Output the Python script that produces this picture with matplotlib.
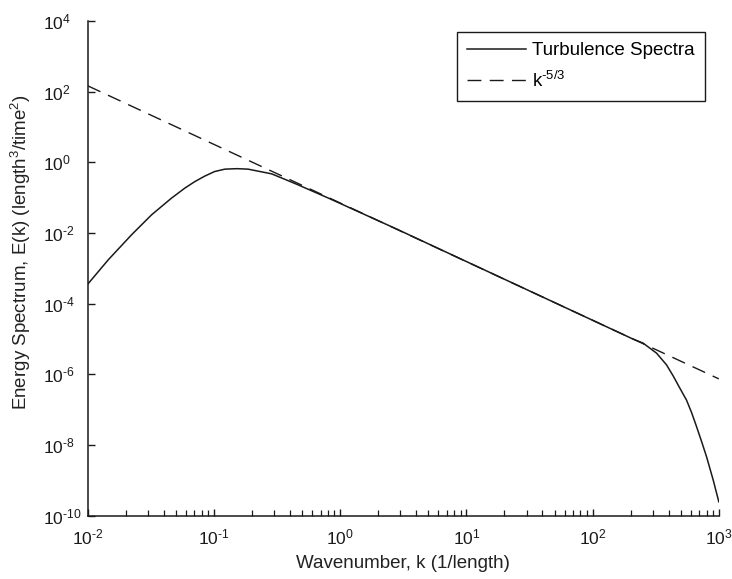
"""
Turbulence energy spectrum vs. the k^-5/3 inertial-range line (log-log).
Values read off the reference picture.
"""
import matplotlib
matplotlib.use("Agg")
import numpy as np
import matplotlib.pyplot as plt
from matplotlib.ticker import LogLocator, NullLocator, FuncFormatter

plt.rcParams["font.family"] = ["Liberation Sans", "DejaVu Sans"]
plt.rcParams["mathtext.fontset"] = "custom"
plt.rcParams["mathtext.rm"] = "Liberation Sans"
plt.rcParams["mathtext.default"] = "regular"
plt.rcParams["axes.unicode_minus"] = False

# Turbulence spectrum
k_turb = [0.0100, 0.0145, 0.0222, 0.0320, 0.0460, 0.0587, 0.0705, 0.0845,
          0.101, 0.122, 0.152, 0.186, 0.286, 0.364, 0.451, 0.828, 2.79,
          12.4, 209, 251, 321, 385, 435, 491, 555, 608, 665, 730, 798, 902,
          1000]
E_turb = [3.6e-4, 1.74e-3, 8.9e-3, 3.27e-2, 9.68e-2, 0.186, 0.285, 0.407,
          0.547, 0.640, 0.660, 0.640, 0.471, 0.330, 0.240, 0.093, 1.30e-2,
          1.09e-3, 1.0e-5, 7.7e-6, 4.0e-6, 1.87e-6, 9.06e-7, 4.1e-7,
          1.87e-7, 8.4e-8, 3.4e-8, 1.27e-8, 4.8e-9, 1.04e-9, 2.5e-10]

# Reference -5/3 line
k_ref = [0.01, 1.0, 1000]
E_ref = [145, 0.0705, 7.5e-7]

YTICKS = [1e-10, 1e-8, 1e-6, 1e-4, 1e-2, 1e0, 1e2, 1e4]
INK = "#1a1a1a"
FS = 13.5
TICK_FS = 12.5


def pow10(v, _pos=None):
    # short hyphen in the exponent, like the reference
    e = int(round(np.log10(v)))
    return "10$^{%s}$" % str(e).replace("-", "\u2010")


fig = plt.figure(figsize=(7.32, 5.79), dpi=100)
ax = fig.add_axes([0.120, 0.109, 0.862, 0.855])

ax.plot(k_turb, E_turb, color=INK, lw=1.1, label="Turbulence Spectra")
ax.plot(k_ref, E_ref, color=INK, lw=1.0, linestyle=(0, (10, 6)),
        label="k$^{\u20105/3}$")

ax.set_xscale("log")
ax.set_yscale("log")
ax.set_xlim(1e-2, 1e3)
ax.set_ylim(1e-10, 1e4)
ax.set_yticks(YTICKS)
ax.yaxis.set_minor_locator(NullLocator())
ax.xaxis.set_minor_locator(LogLocator(base=10, subs=range(2, 10)))
ax.xaxis.set_major_formatter(FuncFormatter(pow10))
ax.yaxis.set_major_formatter(FuncFormatter(pow10))

for side in ("top", "right"):
    ax.spines[side].set_visible(False)
for side in ("left", "bottom"):
    ax.spines[side].set_linewidth(1.1)
    ax.spines[side].set_color(INK)

ax.tick_params(which="major", direction="in", length=5, width=1.0,
               colors=INK, labelsize=TICK_FS)
ax.tick_params(axis="y", which="major", pad=32)
ax.tick_params(axis="x", which="major", pad=8)
ax.tick_params(which="minor", direction="in", length=4, width=0.9, colors=INK)
# y tick labels are left-aligned in the reference
for lbl in ax.get_yticklabels():
    lbl.set_horizontalalignment("left")

ax.set_xlabel("Wavenumber, k (1/length)", fontsize=FS, color="#222222",
              labelpad=6)
ax.set_ylabel("Energy Spectrum, E(k) (length$^3$/time$^2$)", fontsize=FS,
              color="#222222")
ax.yaxis.set_label_coords(-0.087, 0.533)

leg = ax.legend(loc="upper right", bbox_to_anchor=(0.978, 0.978),
                fontsize=FS, handlelength=3.15, handletextpad=0.3,
                fancybox=False, framealpha=1, borderpad=0.55,
                borderaxespad=0, labelspacing=0.6)
leg.get_frame().set_edgecolor(INK)
leg.get_frame().set_linewidth(1.0)

fig.savefig("out.png", dpi=100)
